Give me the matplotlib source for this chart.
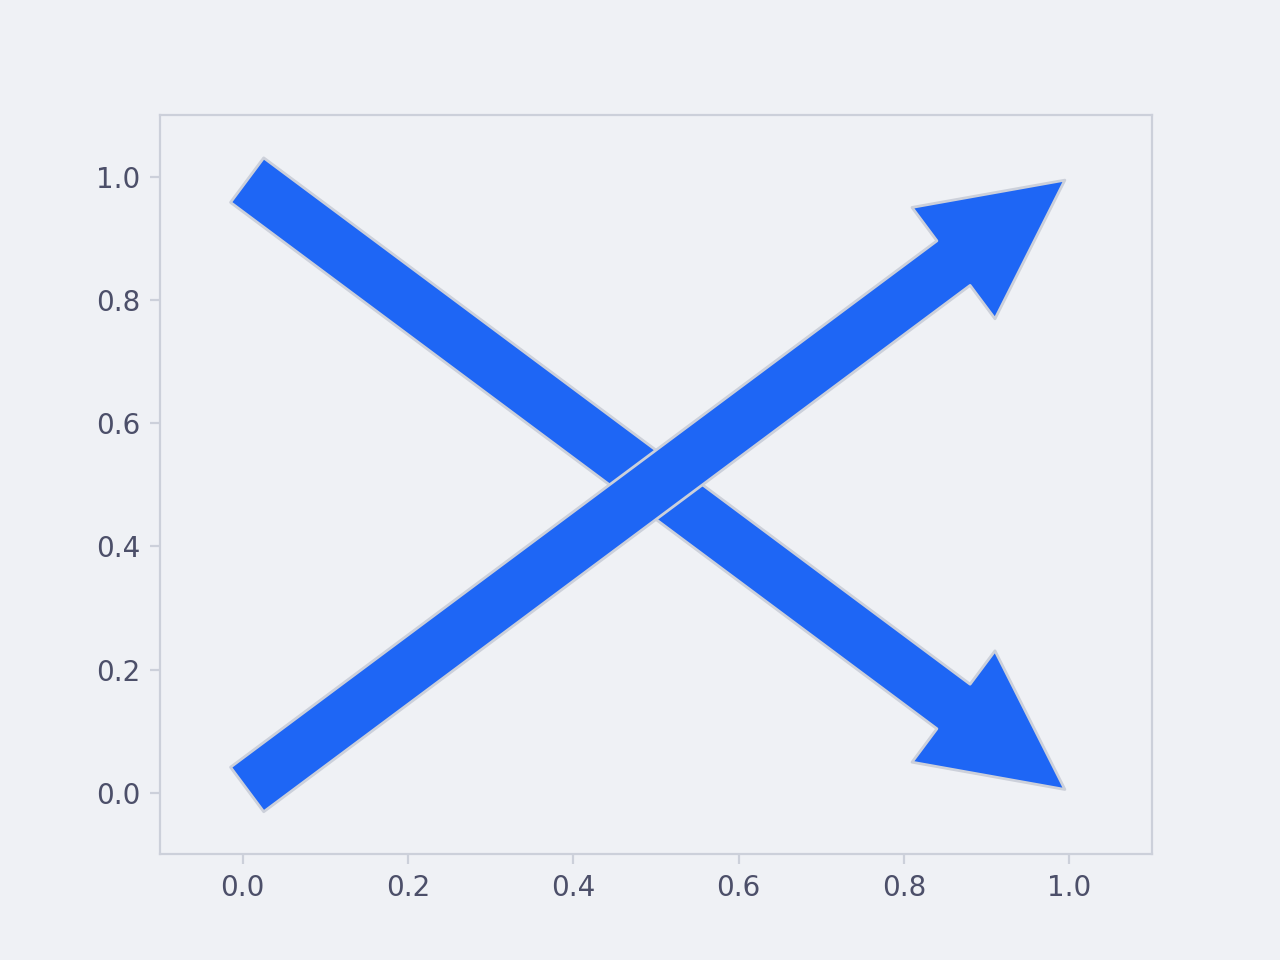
import matplotlib
matplotlib.use("Agg")
import matplotlib.pyplot as plt
from matplotlib.patches import FancyArrowPatch

# arrows: (start, end) in data coords, drawn in this order
starts = [(0.0, 1.0), (0.0, 0.0)]
ends = [(1.0, 0.0), (1.0, 1.0)]

bg = "#eff1f5"
grey = "#ccd0da"
txt = "#4c4f69"
blue = "#1e66f5"

fig, ax = plt.subplots(figsize=(6.4, 4.8), dpi=200)
fig.patch.set_facecolor(bg)
ax.set_facecolor(bg)

for a, b in zip(starts, ends):
    arr = FancyArrowPatch(a, b, arrowstyle="simple", mutation_scale=100,
                          facecolor=blue, edgecolor=grey, linewidth=1.0)
    ax.add_patch(arr)

ax.set_xlim(-0.1, 1.1)
ax.set_ylim(-0.1, 1.1)
for s in ax.spines.values():
    s.set_color(grey)
ax.tick_params(colors=grey, labelcolor=txt)

fig.savefig("out.png", dpi=200, facecolor=bg)
